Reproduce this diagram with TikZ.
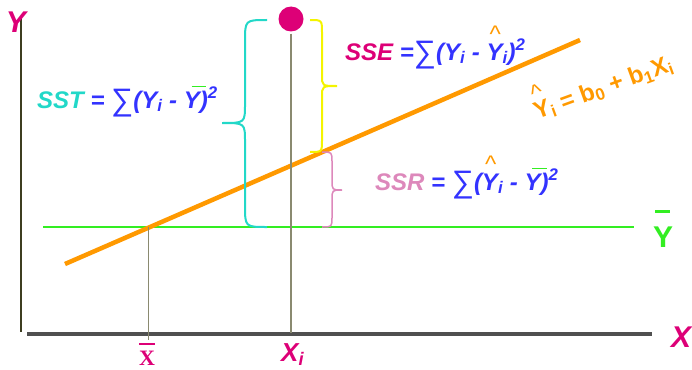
\documentclass[tikz,border=0pt]{standalone}
\usepackage{fontspec}
\setmainfont{Liberation Sans}
\newfontfamily\serifx{Liberation Serif}
\usetikzlibrary{positioning}

\definecolor{ptmagenta}{HTML}{DD0077}
\definecolor{sumblue}{HTML}{3333FF}
\definecolor{fitorange}{HTML}{FF9900}
\definecolor{meangreen}{HTML}{33EE22}
\definecolor{sstcyan}{HTML}{22D8C8}
\definecolor{sseyellow}{HTML}{F4F400}
\definecolor{ssrpink}{HTML}{DD88BB}
\definecolor{axisgray}{HTML}{505050}
\definecolor{yaxiscol}{HTML}{3D3D20}
\definecolor{guidegray}{HTML}{8A8A70}

% bar and hat over a letter, and a large sum sign
\newcommand{\barY}{\makebox[0pt][l]{\hspace{0.33em}\raisebox{0.86em}{\textcolor{meangreen}{\rule{0.6em}{0.07em}}}}Y}
\newcommand{\hatY}{\makebox[0pt][l]{\makebox[0.72em]{\raisebox{0.72em}{\textcolor{fitorange}{\normalfont\textasciicircum}}}}Y}
\newcommand{\bigsum}{\raisebox{-0.12em}{\fontsize{31}{31}\selectfont\mdseries\upshape ∑}}

\begin{document}
\begin{tikzpicture}[x=1pt, y=-1pt,
  eqtext/.style={font=\bfseries\itshape\fontsize{24}{28}\selectfont, text=sumblue, inner sep=0pt, anchor=base west},
  axislabel/.style={font=\bfseries\itshape\fontsize{30}{34}\selectfont, text=ptmagenta, inner sep=0pt, anchor=base},
  bracepath/.style={line width=2pt}]
 \useasboundingbox (0,0) rectangle (692,369);

 % Axes
 \coordinate (ytop) at (21,17);
 \coordinate (ybot) at (21,332);
 \coordinate (xleft) at (27,334);
 \coordinate (xright) at (652,334);
 \draw[yaxiscol, line width=2pt] (ytop) -- (ybot);
 \draw[axisgray, line width=4pt] (xleft) -- (xright);

 % Mean line and fitted line
 \coordinate (meanleft) at (43,227);
 \coordinate (meanright) at (634,227);
 \draw[meangreen, line width=2pt] (meanleft) -- (meanright);
 \coordinate (fitlow) at (65,264);
 \coordinate (fithigh) at (580,40);
 \draw[fitorange, line width=4.5pt] (fitlow) -- (fithigh);

 % Observation and guides
 \coordinate (mean) at (148,227);
 \coordinate (meanfoot) at (148,340);
 \draw[guidegray, line width=1pt] (mean) -- (meanfoot);
 \node[circle, fill=ptmagenta, minimum size=25pt, inner sep=0pt] (obs) at (291,19) {};
 \coordinate (xifoot) at (291,333);
 \draw[guidegray, line width=1.5pt, shorten <=2pt] (obs) -- (xifoot);

 % Braces
 \draw[sstcyan, bracepath] (267,20) .. controls (245,20) .. (245,42) -- (245,104)
   .. controls (245,123) .. (222,123) .. controls (245,123) .. (245,142)
   -- (245,205) .. controls (245,227) .. (267,227);
 \draw[sseyellow, bracepath] (310,20) .. controls (322,20) .. (322,33) -- (322,75)
   .. controls (322,86) .. (337,86) .. controls (322,86) .. (322,97)
   -- (322,140) .. controls (322,152) .. (310,152);
 \draw[ssrpink, line width=1.5pt] (322,152) .. controls (332,152) .. (332,162) -- (332,180)
   .. controls (332,190) .. (342,190) .. controls (332,190) .. (332,200)
   -- (332,217) .. controls (332,227) .. (322,227);

 % Sums of squares
 \node[eqtext] (sst) at (37,108) {\textcolor{sstcyan}{SST} = \bigsum(Y\textsubscript{i} - \barY)\textsuperscript{2}};
 \node[eqtext] (sse) at (345,60) {\textcolor{ptmagenta}{SSE} =\bigsum(Y\textsubscript{i} - \hatY\textsubscript{i})\textsuperscript{2}};
 \node[eqtext] (ssr) at (375,190) {\textcolor{ssrpink}{SSR} = \bigsum(\hatY\textsubscript{i} - \barY)\textsuperscript{2}};
 \node[inner sep=0pt, anchor=base west, rotate=20, text=fitorange,
   font=\bfseries\fontsize{24}{28}\selectfont] (fit) at (537,120)
   {\hatY\textsubscript{i} = b\textsubscript{0} + b\textsubscript{1}X\textsubscript{i}};

 % Axis labels
 \node[axislabel] (ylab) at (16,33) {Y};
 \node[axislabel] (xlab) at (681,347) {X};
 \node[inner sep=0pt, anchor=base, text=meangreen, font=\bfseries\fontsize{30}{34}\selectfont] (ybarlab) at (663,247)
   {\makebox[0pt][l]{\hspace{0.08em}\raisebox{1.15em}{\rule{0.5em}{0.07em}}}Y};
 \node[inner sep=0pt, anchor=base, text=ptmagenta, font=\serifx\bfseries\fontsize{22}{26}\selectfont] (xbarlab) at (147,365)
   {\makebox[0pt][l]{\hspace{0.0em}\raisebox{0.9em}{\rule{0.72em}{0.08em}}}X};
 \node[inner sep=0pt, anchor=base west, text=ptmagenta, font=\bfseries\itshape\fontsize{26}{30}\selectfont] (xilab) at (281,361)
   {X\textsubscript{i}};
\end{tikzpicture}
\end{document}
